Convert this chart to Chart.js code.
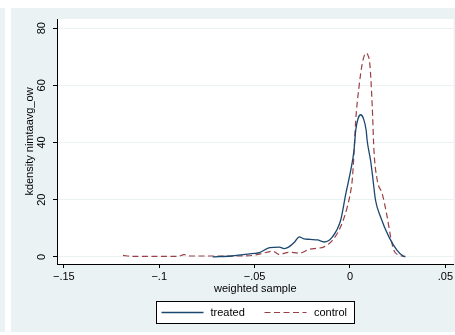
<!DOCTYPE html>
<html>
<head>
<meta charset="utf-8">
<script src="https://cdn.jsdelivr.net/npm/chart.js@4.4.1/dist/chart.umd.min.js"></script>
<style>
    html, body { margin: 0; padding: 0; background: #ffffff; }
    #wrap { position: relative; width: 455px; height: 335px; }
</style>
</head>
<body>
<div id="wrap"><canvas id="kdens" width="455" height="335"></canvas></div>
<script>
'use strict';

// kernel density estimates, weighted sample
const treatedX = [-0.072, -0.062, -0.056, -0.05, -0.0475, -0.042, -0.037, -0.0345, -0.032, -0.029, -0.0266,
    -0.0245, -0.021, -0.017, -0.0136, -0.0092, -0.0049, -0.0022, 0.0004, 0.0021, 0.003, 0.0042, 0.0056,
    0.0071, 0.0085, 0.009, 0.0108, 0.0117, 0.0134, 0.016, 0.0204, 0.0247, 0.028, 0.029];
const treatedY = [0, 0.3, 0.8, 1.2, 1.5, 3.2, 3.4, 2.9, 3.5, 5.2, 7.0,
    6.4, 6.1, 5.9, 5.2, 7.0, 12.8, 22, 30.3, 37.2, 44.2, 48.3, 49.7,
    48.3, 44.2, 40.7, 33.7, 29.1, 19.8, 14, 7, 2.3, 0.2, 0];

const controlX = [-0.119, -0.115, -0.1, -0.09, -0.087, -0.084, -0.07, -0.06, -0.051, -0.046, -0.0406,
    -0.037, -0.032, -0.0266, -0.021, -0.017, -0.0136, -0.0092, -0.0049, -0.0014, 0.0004, 0.0012, 0.002,
    0.003, 0.0047, 0.0064, 0.0075, 0.0085, 0.0095, 0.0104, 0.0117, 0.0125, 0.0143, 0.0169, 0.0195,
    0.0213, 0.023, 0.0256, 0.029];
const controlY = [0.5, 0.2, 0.2, 0.2, 0.8, 0.3, 0.3, 0.3, 0.5, 1.2, 2.0,
    0.8, 1.6, 1.3, 2.7, 3.0, 3.5, 5.8, 10.5, 17.5, 23, 27, 35,
    47.7, 59.3, 67.5, 70.4, 71.3, 70.4, 67.5, 52.3, 38, 26.8, 22.1, 14,
    7, 2.3, 0.6, 0.2];

const seriesNames = ['treated', 'control'];
const xTicks = [-0.15, -0.1, -0.05, 0, 0.05];
const xTickLabels = ['\u2212.15', '\u2212.1', '\u2212.05', '0', '.05'];
const yTicks = [0, 20, 40, 60, 80];
const yTickLabels = ['0', '20', '40', '60', '80'];
const xTitle = 'weighted sample';
const yTitle = 'kdensity nimtaavg_ow';

const FONT = '"Liberation Sans", Arial, Helvetica, sans-serif';
const BG = '#eaf2f3';

function toPoints(xs, ys) {
    return xs.map((x, i) => ({ x: x, y: ys[i] }));
}

// graph region, plot region, rotated y labels, titles and boxed legend
const stataLook = {
    id: 'stataLook',
    beforeDraw(chart) {
        const ctx = chart.ctx;
        const a = chart.chartArea;
        ctx.save();
        ctx.fillStyle = '#ffffff';
        ctx.fillRect(0, 0, chart.width, chart.height);
        ctx.fillStyle = BG;
        ctx.fillRect(0, 8, 5, 324);
        ctx.fillRect(11, 8, chart.width - 11, 324);
        ctx.fillStyle = '#ffffff';
        ctx.fillRect(a.left, a.top, a.right - a.left, a.bottom - a.top);
        ctx.restore();
    },
    afterDraw(chart) {
        const ctx = chart.ctx;
        const a = chart.chartArea;
        const yScale = chart.scales.y;
        ctx.save();
        ctx.fillStyle = '#000';
        ctx.font = '11px ' + FONT;
        ctx.textAlign = 'center';
        ctx.textBaseline = 'middle';

        // y tick labels, vertical
        yTicks.forEach((v, i) => {
            ctx.save();
            ctx.translate(42, yScale.getPixelForValue(v));
            ctx.rotate(-Math.PI / 2);
            ctx.fillText(yTickLabels[i], 0, 0);
            ctx.restore();
        });

        // y title
        ctx.save();
        ctx.translate(30, (a.top + a.bottom) / 2);
        ctx.rotate(-Math.PI / 2);
        ctx.fillText(yTitle, 0, 0);
        ctx.restore();

        // x title
        ctx.fillText(xTitle, (a.left + a.right) / 2, 289);

        // legend
        const bx = 156.5, by = 301.5, bw = 198, bh = 22;
        ctx.fillStyle = '#ffffff';
        ctx.fillRect(bx, by, bw, bh);
        ctx.strokeStyle = '#000';
        ctx.lineWidth = 1;
        ctx.strokeRect(bx, by, bw, bh);
        const ly = by + bh / 2;
        const items = [
            { x0: 161.5, x1: 203.5, tx: 210.5 },
            { x0: 264.5, x1: 306.5, tx: 314 }
        ];
        chart.data.datasets.forEach((ds, i) => {
            const it = items[i];
            ctx.beginPath();
            ctx.setLineDash(ds.borderDash || []);
            ctx.strokeStyle = ds.borderColor;
            ctx.lineWidth = ds.borderWidth;
            ctx.moveTo(it.x0, ly);
            ctx.lineTo(it.x1, ly);
            ctx.stroke();
            ctx.setLineDash([]);
            ctx.fillStyle = '#000';
            ctx.textAlign = 'left';
            ctx.fillText(ds.label, it.tx, ly + 0.5);
        });
        ctx.restore();
    }
};

const ctx = document.getElementById('kdens').getContext('2d');

new Chart(ctx, {
    type: 'line',
    data: {
        datasets: [{
            label: seriesNames[0],
            data: toPoints(treatedX, treatedY),
            borderColor: '#1a476f',
            borderWidth: 1.3,
            pointRadius: 0,
            cubicInterpolationMode: 'monotone',
            fill: false
        }, {
            label: seriesNames[1],
            data: toPoints(controlX, controlY),
            borderColor: '#9a3f45',
            borderWidth: 1.2,
            borderDash: [6, 3.5],
            pointRadius: 0,
            cubicInterpolationMode: 'monotone',
            fill: false
        }]
    },
    options: {
        responsive: false,
        animation: false,
        events: [],
        layout: { padding: { left: 0, right: 0, top: 19, bottom: 0 } },
        plugins: {
            legend: { display: false },
            tooltip: { enabled: false }
        },
        scales: {
            x: {
                type: 'linear',
                min: -0.1536,
                max: 0.0543,
                afterBuildTicks: (scale) => { scale.ticks = xTicks.map(v => ({ value: v })); },
                afterFit: (scale) => { scale.height = 71; },
                grid: {
                    drawOnChartArea: false,
                    drawTicks: true,
                    tickLength: 4,
                    tickColor: '#000'
                },
                border: { display: true, color: '#000', width: 1 },
                ticks: {
                    padding: 2,
                    maxRotation: 0,
                    autoSkip: false,
                    color: '#000',
                    font: { family: FONT, size: 11 },
                    callback: (v) => {
                        const i = xTicks.findIndex(t => Math.abs(t - v) < 1e-9);
                        return i >= 0 ? xTickLabels[i] : '';
                    }
                }
            },
            y: {
                type: 'linear',
                min: -2.5,
                max: 83.2,
                afterBuildTicks: (scale) => { scale.ticks = yTicks.map(v => ({ value: v })); },
                afterFit: (scale) => { scale.width = 57; },
                grid: {
                    color: BG,
                    lineWidth: 1,
                    drawTicks: true,
                    tickLength: 4,
                    tickColor: '#000'
                },
                border: { display: true, color: '#000', width: 1 },
                ticks: { display: false }
            }
        }
    },
    plugins: [stataLook]
});
</script>
</body>
</html>
